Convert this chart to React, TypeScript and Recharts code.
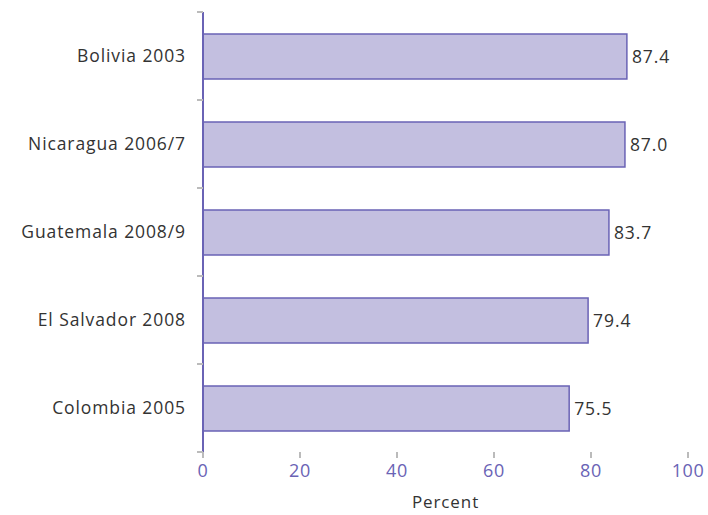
import React from 'react';
import { BarChart, Bar, XAxis, YAxis, LabelList } from 'recharts';

const surveys = ['Bolivia 2003', 'Nicaragua 2006/7', 'Guatemala 2008/9', 'El Salvador 2008', 'Colombia 2005'];
const percents = [87.4, 87.0, 83.7, 79.4, 75.5];
const xTicks = [0, 20, 40, 60, 80, 100];

const data = surveys.map((name, i) => ({ name, value: percents[i] }));

const FONT = '"Open Sans", sans-serif';
const PURPLE = '#6a63b5';
const HALF_BAND = 44;

const CategoryTick = (props: any) => {
    const { x, y, payload } = props;
    return (
        <g>
            <line x1={x + 11} x2={x + 17} y1={y - HALF_BAND} y2={y - HALF_BAND} stroke="#bbb" strokeWidth={2} />
            <line x1={x + 11} x2={x + 17} y1={y + HALF_BAND} y2={y + HALF_BAND} stroke="#bbb" strokeWidth={2} />
            <text x={x} y={y} dy={6} textAnchor="end" fill="#333" fontSize={17.5} letterSpacing={0.9} fontFamily={FONT}>
                {payload.value}
            </text>
        </g>
    );
};

export default function App() {
    return (
        <div style={{ position: 'absolute', left: 0, top: 0, width: 708, height: 515, background: '#fff' }}>
            <BarChart
                width={708}
                height={515}
                data={data}
                layout="vertical"
                margin={{ top: 12, right: 20, left: 0, bottom: 0 }}
                barCategoryGap={0}
            >
                <XAxis
                    type="number"
                    domain={[0, 100]}
                    ticks={xTicks}
                    axisLine={false}
                    tickLine={{ stroke: '#bbb', strokeWidth: 2 }}
                    tickSize={6}
                    tickMargin={6}
                    height={63}
                    tick={{ fill: PURPLE, fontSize: 18, fontFamily: FONT, letterSpacing: 0.6 }}
                    label={{ value: 'Percent', position: 'insideBottom', offset: 7, fill: '#333', fontSize: 17, fontFamily: FONT, letterSpacing: 0.9 }}
                />
                <YAxis
                    type="category"
                    dataKey="name"
                    width={203}
                    axisLine={{ stroke: PURPLE, strokeWidth: 2 }}
                    tickLine={false}
                    tickSize={0}
                    tickMargin={17}
                    tick={<CategoryTick />}
                    interval={0}
                />
                <Bar dataKey="value" fill="#c3bfe0" stroke={PURPLE} strokeWidth={1.5} barSize={45} isAnimationActive={false}>
                    <LabelList
                        dataKey="value"
                        position="right"
                        offset={5}
                        formatter={(v: any) => Number(v).toFixed(1)}
                        style={{ fill: '#333', fontSize: 17.5, fontFamily: FONT, letterSpacing: 0.9 }}
                    />
                </Bar>
            </BarChart>
        </div>
    );
}
